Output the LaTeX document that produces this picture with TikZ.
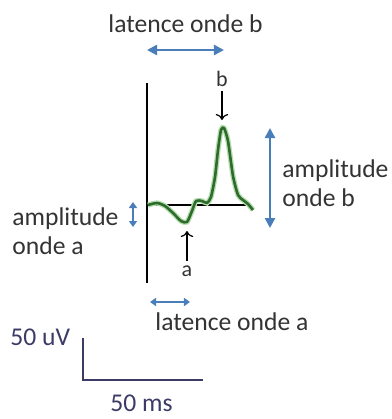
\documentclass[tikz,border=0pt]{standalone}
\usepackage{fontspec}
\setmainfont{Carlito}
\usetikzlibrary{arrows.meta}
\definecolor{arrowblue}{HTML}{4A7EBB}
\definecolor{wavegreen}{HTML}{2E6B2C}
\definecolor{halogreen}{HTML}{B4DEAE}
\definecolor{textgray}{HTML}{333333}
\definecolor{barnavy}{HTML}{3B3B66}

\begin{document}
\begin{tikzpicture}[x=0.5pt,y=-0.5pt,
  every node/.style={font=\fontsize{12.8}{14}\selectfont,text=textgray,inner sep=0pt},
  txt/.style={anchor=base west},
  twoline/.style={anchor=north west,align=left,font=\fontsize{12.8}{14.6}\selectfont},
  peaklabel/.style={inner sep=2pt,font=\fontsize{11}{12}\selectfont},
  bluearrow/.style={arrowblue,line width=1.2pt,{Triangle[length=5pt,width=5pt]}-{Triangle[length=5pt,width=5pt]}},
  smallblue/.style={arrowblue,line width=1.2pt,{Triangle[length=3pt,width=4pt]}-{Triangle[length=3pt,width=4pt]}},
  pointer/.style={black,line width=0.6pt,-{To[length=3pt]}},
  trace axis/.style={black,line width=0.8pt}]
\useasboundingbox (0,0) rectangle (392,419);

% axes of the trace
\coordinate (top) at (147,83);
\coordinate (bottom) at (147,283);
\coordinate (zero) at (147,205);
\coordinate (zeroend) at (250,205);
\draw[trace axis] (top) -- (bottom);
\draw[trace axis] (zero) -- (zeroend);

% the wave
\draw[wavegreen,line width=1.3pt,line join=round,
  preaction={draw,halogreen,line width=2.6pt}]
  plot[smooth,tension=0.4] coordinates {(148,205) (157,203) (165,206) (173,213) (181,221) (187,222)
  (192,211) (196,201) (202,201) (207,203) (211,197) (215,177) (218,150) (221,130) (224,128)
  (228,141) (233,176) (238,195) (243,200) (248,204) (253,210)};

% latence onde b
\node[txt] (latb) at (108,32) {latence onde b};
\coordinate (latbL) at (147,50);
\coordinate (latbR) at (224,50);
\draw[bluearrow] (latbL) -- (latbR);

% peak b
\node[peaklabel] (b) at (222,79) {b};
\coordinate (peak) at (222,120);
\draw[pointer] (b) -- (peak);

% trough a
\node[peaklabel] (a) at (187,271) {a};
\coordinate (trough) at (187,231);
\draw[pointer] (a) -- (trough);

% amplitude onde b
\coordinate (ampbtop) at (270,128);
\coordinate (ampbbot) at (270,228);
\draw[bluearrow] (ampbtop) -- (ampbbot);
\node[twoline] (ampb) at (282,159) {amplitude\\onde b};

% amplitude onde a
\coordinate (ampatop) at (133,202);
\coordinate (ampabot) at (133,227);
\draw[smallblue] (ampatop) -- (ampabot);
\node[twoline] (ampa) at (12,207) {amplitude\\onde a};

% latence onde a
\coordinate (lataL) at (150,302);
\coordinate (lataR) at (190,302);
\draw[smallblue] (lataL) -- (lataR);
\node[txt] (lata) at (155,330) {latence onde a};

% scale bar
\coordinate (bartop) at (83,338);
\coordinate (barcorner) at (83,380);
\coordinate (barend) at (203,380);
\draw[barnavy,line width=1pt] (bartop) -- (barcorner) -- (barend);
\node[txt,text=barnavy] (volt) at (10,345) {50 uV};
\node[txt,text=barnavy] (time) at (110,411) {50 ms};
\end{tikzpicture}
\end{document}
